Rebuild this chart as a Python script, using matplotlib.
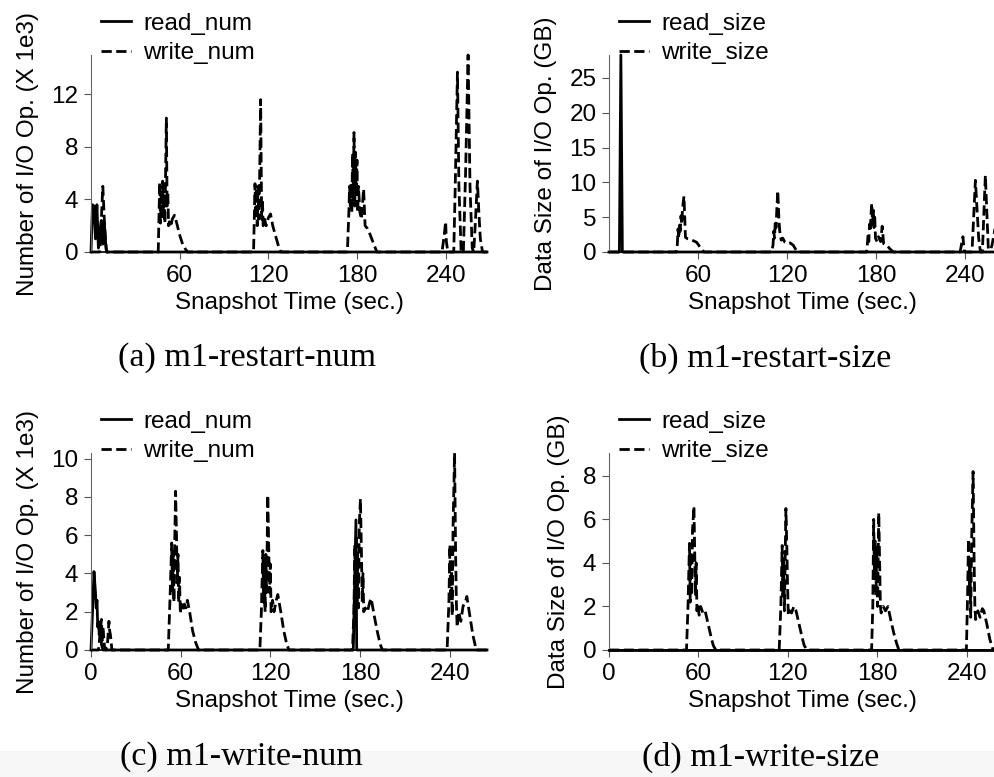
import matplotlib
matplotlib.use("Agg")
import matplotlib.pyplot as plt
from matplotlib.patches import Rectangle

plt.rcParams['font.family'] = ['Liberation Sans', 'DejaVu Sans']

# ---------------- data (snapshot time in sec., value) ----------------
# (a) m1-restart-num  (X 1e3 ops)
a_read_t = [0, 1, 2, 3, 4, 5, 6, 7, 7.5, 8, 9, 10, 10.5, 268]
a_read_v = [0, 3.6, 3.5, 1.0, 3.6, 0.3, 1.5, 2.4, 1.0, 0.6, 2.2, 0.5, 0, 0]
a_write_t = [0, 6, 8, 9, 9.5, 10.5,
             45.5, 46.5, 47, 47.5, 48, 48.5, 49, 49.5, 50, 51, 51.5, 52, 52.5, 53, 54, 55, 56.5, 58, 60, 62, 64, 65.5,
             110, 110.5, 111, 111.5, 112, 112.5, 113, 113.5, 114, 114.8, 115.5, 116, 116.5, 117.5, 118.5, 120, 121.5,
             123, 125, 127, 128.5,
             173.5, 174.5, 175, 175.5, 176, 176.5, 177, 177.5, 178, 178.5, 179, 179.5, 180, 180.5, 181, 182, 183,
             184.5, 185.5, 187, 189, 191, 193.5,
             237.5, 239, 240, 240.5, 241.5, 245.5, 246.5, 248, 249, 250.5, 252, 253.5, 255.2, 256.5, 258, 259, 260,
             261.5, 262.5, 263.5, 265, 268]
a_write_v = [0, 0, 5.0, 2.5, 1.5, 0,
             0, 5.3, 2.2, 4.8, 2.5, 5.4, 3.0, 5.0, 2.2, 10.2, 3.5, 4.5, 2.0, 2.3, 1.9, 2.5, 2.8, 2.2, 1.3, 0.6, 0.2, 0,
             0, 2.5, 5.2, 2.5, 4.8, 2.0, 5.0, 2.5, 4.5, 11.6, 2.5, 4.0, 2.0, 2.5, 2.0, 2.6, 2.9,
             2.0, 1.2, 0.4, 0,
             0, 3.0, 5.0, 3.5, 5.2, 3.0, 7.5, 4.0, 9.1, 3.5, 7.6, 4.5, 7.0, 3.0, 5.0, 3.0, 2.5,
             4.8, 2.0, 1.8, 1.3, 0.7, 0,
             0, 1.2, 2.3, 0.8, 0, 0, 5.0, 13.7, 5.0, 0, 0, 6.0, 15.0, 5.0, 0.3, 0, 2.0,
             5.4, 3.0, 1.0, 0, 0]

# (b) m1-restart-size  (GB)
b_read_t = [0, 7, 8, 9, 260]
b_read_v = [0, 0, 28.3, 0, 0]
b_write_t = [0,
             45.5, 46, 46.5, 47, 47.5, 48, 48.5, 49, 49.5, 50.5, 51.5, 53, 55, 57, 59, 61, 62.5, 64,
             109.5, 110.5, 111, 111.5, 112, 112.5, 113, 113.7, 114.5, 115, 116, 117, 118.5, 120, 122, 124, 126, 127.5,
             173.5, 174, 174.5, 175, 175.5, 176, 176.5, 177, 177.5, 178, 178.5, 179, 179.5, 180.5, 181.5, 183, 184,
             185, 187, 189, 191.5,
             236.5, 238.4, 239.2, 240, 244.5, 246.8, 249, 250.2, 251.5, 253.5, 255.5, 257, 258, 260.3, 261]
b_write_v = [0,
             0, 1.0, 3.3, 2.0, 4.0, 3.0, 5.2, 4.0, 6.2, 8.0, 2.1, 1.9, 1.8, 1.6, 1.4, 0.8, 0.4, 0,
             0, 1.0, 3.0, 2.0, 4.5, 3.5, 6.0, 8.8, 4.5, 3.0, 1.7, 2.0, 1.4, 1.2, 1.3, 1.0, 0.3, 0,
             0, 1.0, 2.5, 1.5, 4.0, 3.0, 5.5, 7.0, 4.0, 6.0, 3.5, 5.0, 2.0, 1.5, 2.2, 1.5, 3.7,
             1.2, 1.0, 0.5, 0,
             0, 2.2, 0.3, 0, 0, 10.3, 2.0, 0, 0, 11.0, 0.5, 0.3, 1.0, 3.7, 3.0]

# (c) m1-write-num  (X 1e3 ops)
c_read_t = [0, 1, 2, 3, 3.5, 4, 4.5, 5, 5.5, 6, 7, 8, 175.5, 177.3, 177.8, 265]
c_read_v = [0, 2.0, 4.1, 3.0, 2.2, 2.6, 1.2, 1.5, 0.8, 1.3, 0.3, 0, 0, 6.8, 0, 0]
c_write_t = [0, 5, 6, 7, 7.5, 8, 9, 10, 11, 12, 12.5, 13, 14,
             51.7, 53, 54, 54.5, 55, 55.5, 56, 56.6, 57.2, 57.7, 58.2, 58.7, 59.2, 59.8, 60.5, 61.5, 62.5, 63.5,
             64.5, 66, 68, 70, 72,
             113, 114, 115, 115.5, 116, 116.5, 117, 117.5, 118.3, 119, 119.5, 120, 120.5, 121.5, 122.5, 124, 125,
             127, 129, 131, 132.5,
             175, 176, 176.5, 177, 177.5, 178, 178.5, 179, 179.5, 180.3, 181, 181.5, 182, 182.5, 183.5, 185, 186.5,
             187.5, 189.5, 191.5, 193.5, 195,
             238.3, 239.5, 240.2, 240.7, 241.2, 241.7, 242.3, 243.3, 244, 244.5, 245, 246, 247.5, 249, 250.5, 251.5,
             253.5, 255.5, 257.8, 265]
c_write_v = [0, 0, 0.8, 1.6, 0.5, 1.2, 0.2, 0, 0.3, 1.5, 1.0, 0.8, 0,
             0, 3.0, 5.6, 3.0, 5.0, 2.5, 5.5, 8.3, 6.0, 3.5, 5.0, 2.5, 3.8, 1.9, 2.4, 2.1, 2.4, 2.2,
             2.6, 2.0, 1.0, 0.4, 0,
             0, 2.0, 5.2, 2.5, 4.8, 2.0, 5.0, 3.0, 8.1, 5.0, 3.0, 4.5, 2.0, 2.6, 2.0, 2.6, 2.9,
             2.0, 1.0, 0.3, 0,
             0, 2.2, 5.5, 3.0, 6.0, 2.5, 5.0, 2.2, 6.5, 7.9, 5.0, 2.5, 4.0, 2.0, 2.2, 2.0, 2.5,
             2.7, 1.8, 1.0, 0.3, 0,
             0, 2.5, 5.5, 2.5, 4.5, 1.8, 6.5, 10.3, 5.0, 2.5, 1.2, 2.0, 1.5, 2.3, 2.5, 2.8,
             1.8, 0.8, 0, 0]

# (d) m1-write-size  (GB)
d_read_t = [0, 259]
d_read_v = [0, 0]
d_write_t = [0,
             52, 53, 54, 54.5, 55, 55.5, 56, 57, 57.5, 58, 58.5, 59, 59.5, 60.5, 61.5, 63, 64.5, 66.5, 68.5, 70, 71.7,
             114.2, 115.3, 116.2, 116.7, 117.2, 117.7, 118.7, 119.3, 119.8, 120.3, 121.3, 122.5, 124, 125.5, 127.5,
             129.5, 131, 133,
             176.2, 177, 177.6, 178.1, 178.6, 179.1, 179.6, 180.2, 181, 181.6, 182.1, 182.6, 184, 185.5, 187.2, 189,
             191, 193, 194.5,
             239.8, 240.6, 241.2, 241.7, 242.2, 242.7, 243.3, 244.3, 245, 245.5, 246, 247.5, 249, 250.5, 251.5,
             253.5, 255.5, 257.7, 259]
d_write_v = [0,
             0, 2.0, 4.9, 2.2, 4.5, 2.5, 5.5, 6.6, 4.5, 2.5, 4.0, 1.8, 2.1, 1.6, 2.0, 1.7, 1.8, 1.2, 0.6, 0.2, 0,
             0, 2.0, 4.8, 2.5, 4.2, 1.8, 6.5, 4.8, 3.0, 1.6, 1.8, 1.7, 2.0, 1.8, 1.2,
             0.6, 0.2, 0,
             0, 2.0, 6.0, 3.5, 5.0, 2.5, 4.5, 2.0, 6.3, 4.0, 2.0, 1.7, 2.0, 1.8, 2.0, 1.4,
             0.8, 0.3, 0,
             0, 2.5, 5.1, 2.5, 4.0, 1.5, 5.0, 8.2, 4.0, 2.0, 1.4, 1.8, 1.5, 1.9, 1.8,
             1.2, 0.5, 0, 0]

num_label = "Number of I/O Op. (X 1e3)"
size_label = "Data Size of I/O Op. (GB)"

W, H = 995, 777
FS = 17.5
fig = plt.figure(figsize=(W / 100, H / 100), dpi=100)

# light gray band at the very bottom of the screenshot
fig.patches.append(Rectangle((0, 0), 1, 26 / H, transform=fig.transFigure,
                             facecolor='#f7f7f7', edgecolor='none', zorder=-1))


def px_axes(left, right, top, bottom):
    return fig.add_axes([left / W, 1 - bottom / H, (right - left) / W, (bottom - top) / H])


def draw(ax, rt, rv, wt, wv, names, ylabel, xmax, ymax, yticks, xticks):
    ax.plot(rt, rv, color='black', lw=2.0, label=names[0], clip_on=False)
    ax.plot(wt, wv, color='black', lw=2.0, ls='--', label=names[1], clip_on=False)
    ax.set_xlim(0, xmax)
    ax.set_ylim(0, ymax)
    ax.set_xticks(xticks)
    ax.set_yticks(yticks)
    for s in ['top', 'right']:
        ax.spines[s].set_visible(False)
    ax.spines['left'].set_color('#666666')
    ax.spines['left'].set_linewidth(0.8)
    ax.spines['bottom'].set_color('black')
    ax.spines['bottom'].set_linewidth(1.2)
    ax.tick_params(labelsize=FS, length=5, width=0.8, color='#555555', pad=4)
    ax.set_xlabel("Snapshot Time (sec.)", fontsize=FS, labelpad=4)
    ax.set_ylabel(ylabel, fontsize=FS, labelpad=9)
    ax.legend(loc='upper left', bbox_to_anchor=(0.025, 1.215), frameon=False, fontsize=FS,
              handlelength=1.25, handletextpad=0.5, labelspacing=0.32, borderaxespad=0, borderpad=0)


ax_a = px_axes(91, 487, 55, 252)
draw(ax_a, a_read_t, a_read_v, a_write_t, a_write_v, ['read_num', 'write_num'],
     num_label, 268, 15, [0, 4, 8, 12], [60, 120, 180, 240])
ax_b = px_axes(609, 995, 55, 252)
draw(ax_b, b_read_t, b_read_v, b_write_t, b_write_v, ['read_size', 'write_size'],
     size_label, 260, 28.3, [0, 5, 10, 15, 20, 25], [60, 120, 180, 240])
ax_c = px_axes(91, 487, 453, 650)
draw(ax_c, c_read_t, c_read_v, c_write_t, c_write_v, ['read_num', 'write_num'],
     num_label, 265, 10.3, [0, 2, 4, 6, 8, 10], [0, 60, 120, 180, 240])
ax_d = px_axes(609, 995, 453, 650)
draw(ax_d, d_read_t, d_read_v, d_write_t, d_write_v, ['read_size', 'write_size'],
     size_label, 259, 9.05, [0, 2, 4, 6, 8], [0, 60, 120, 180, 240])

captions = [("(a) m1-restart-num", 247, 358), ("(b) m1-restart-size", 765, 358),
            ("(c) m1-write-num", 241, 757), ("(d) m1-write-size", 761, 757)]
for text, cx, cy in captions:
    fig.text(cx / W, 1 - cy / H, text, ha='center', va='center', fontsize=24.5,
             family=['Liberation Serif', 'DejaVu Serif'])

fig.savefig("out.png", dpi=100)
